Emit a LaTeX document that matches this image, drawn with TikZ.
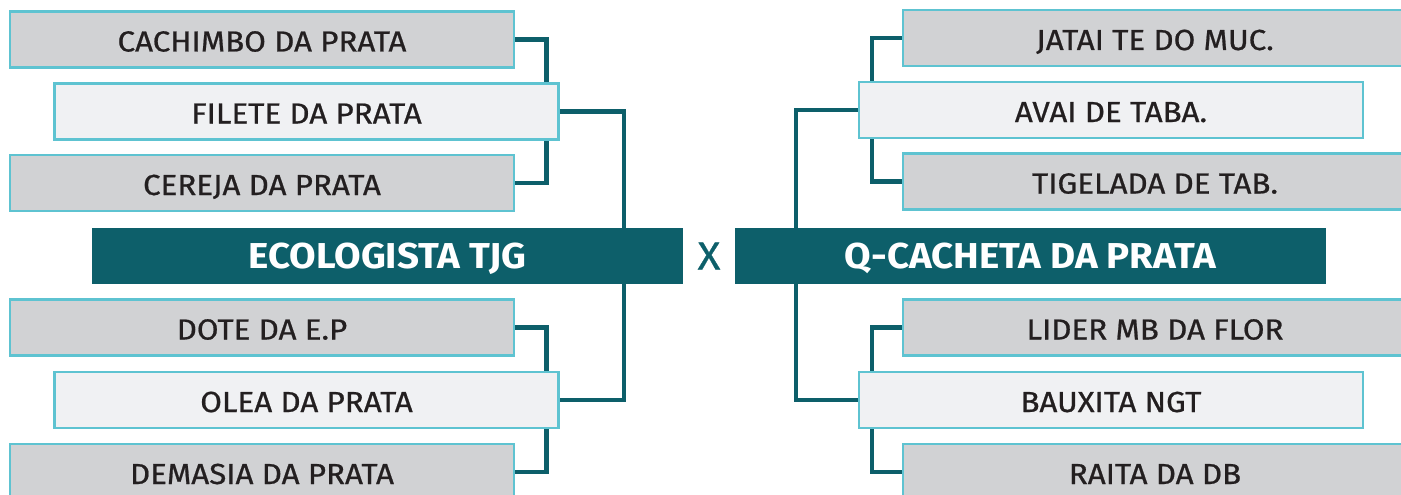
\documentclass[tikz,border=0pt]{standalone}
\usepackage{fontspec}
\setmainfont{Fira Sans}
\newfontfamily\entryfont{Fira Sans}[FakeBold=0.7, FakeStretch=1.08]
\newfontfamily\finalfont{Fira Sans}[FakeStretch=1.07]
\usepackage{xcolor}
\usepackage{tikz}
\usetikzlibrary{backgrounds}

\definecolor{tealdark}{HTML}{0D5F6A}
\definecolor{cyanline}{HTML}{5EC3D1}
\definecolor{grayfill}{HTML}{D1D2D4}
\definecolor{whitefill}{HTML}{F0F1F3}
\definecolor{ink}{HTML}{231F20}

\begin{document}
\begin{tikzpicture}[
    x=1pt, y=-1pt,
    box/.style={rectangle, draw=cyanline, line width=2.5pt,
                minimum width=504pt, minimum height=56pt, inner sep=0pt,
                text=ink, text height=24pt, text depth=0pt,
                font=\entryfont\fontsize{29}{34}\selectfont},
    rival/.style={box, fill=grayfill},
    seed/.style={box, fill=whitefill},
    team/.style={rectangle, fill=tealdark, minimum width=591pt,
                 minimum height=56pt, inner sep=0pt, text=white,
                 text height=25pt, text depth=0pt,
                 font=\finalfont\fontsize{36}{42}\selectfont\bfseries},
    link/.style={draw=tealdark, line width=4.5pt},
  ]
    \useasboundingbox (0,0) rectangle (1401,495);
    \clip (0,0) rectangle (1401,495);

    % Finalists
    \node[team] (ecologista) at (387.5,256) {ECOLOGISTA TJG};
    \node[team] (cacheta) at (1030.5,256) {Q-CACHETA DA PRATA};
    \node[text=tealdark, inner sep=0pt, text height=27pt, text depth=0pt,
          font=\entryfont\fontsize{39}{44}\selectfont] (versus) at (709,256) {X};

    % Left bracket, top
    \node[rival] (cachimbo) at (262,39.5) {CACHIMBO DA PRATA};
    \node[seed] (filete) at (306.5,111.5) {FILETE DA PRATA};
    \node[rival] (cereja) at (262,183) {CEREJA DA PRATA};

    % Left bracket, bottom
    \node[rival] (dote) at (262,327.5) {DOTE DA E.P};
    \node[seed] (olea) at (306.5,400) {OLEA DA PRATA};
    \node[rival] (demasia) at (262,472) {DEMASIA DA PRATA};

    % Right bracket, top
    \node[rival] (jatai) at (1155,38) {JATAI TE DO MUC.};
    \node[seed] (avai) at (1111,110) {AVAI DE TABA.};
    \node[rival] (tigelada) at (1155,181.5) {TIGELADA DE TAB.};

    % Right bracket, bottom
    \node[rival] (lider) at (1155,327.5) {LIDER MB DA FLOR};
    \node[seed] (bauxita) at (1111,400) {BAUXITA NGT};
    \node[rival] (raita) at (1155,472) {RAITA DA DB};

    % Bracket lines
    \begin{scope}[on background layer]
      \draw[link] (cachimbo.east) -- ++(31,0) |- (cereja.east);
      \draw[link] (dote.east) -- ++(31,0) |- (demasia.east);
      \draw[link] (filete.east) -- ++(64,0) |- (olea.east);
      \draw[link] (jatai.west) -- ++(-30,0) |- (tigelada.west);
      \draw[link] (lider.west) -- ++(-30,0) |- (raita.west);
      \draw[link] (avai.west) -- ++(-62,0) |- (bauxita.west);
    \end{scope}
  \end{tikzpicture}
\end{document}
